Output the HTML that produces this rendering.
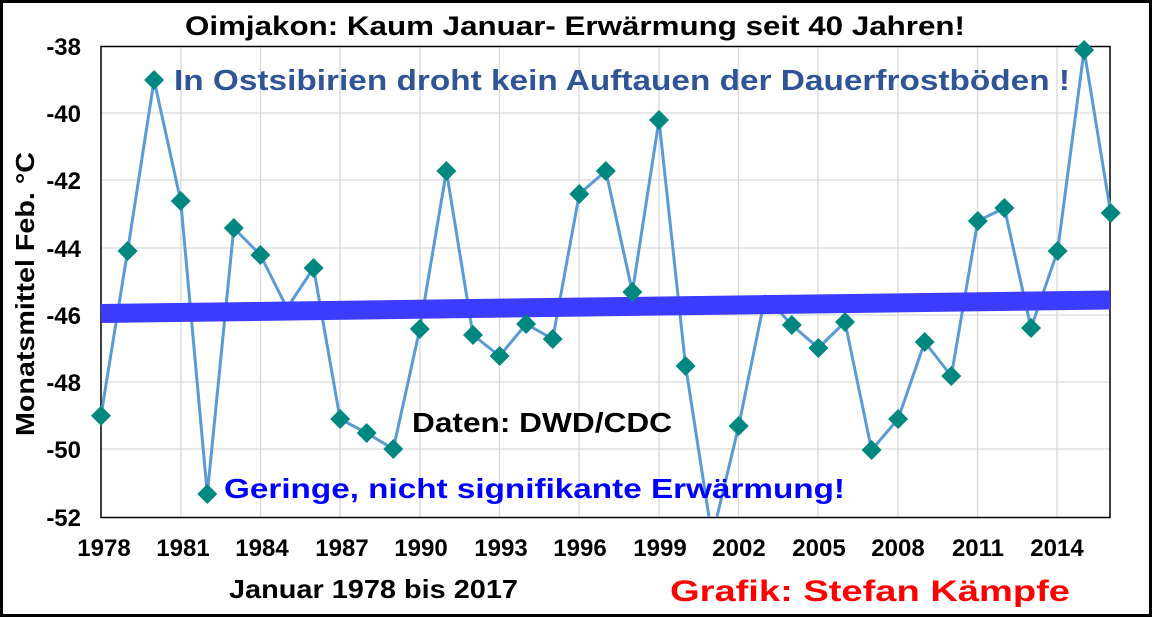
<!DOCTYPE html>
<html><head><meta charset="utf-8"><style>html,body{margin:0;padding:0;background:#fff}svg{display:block}</style></head>
<body>
<svg width="1152" height="617" xmlns="http://www.w3.org/2000/svg" font-family="Liberation Sans, Arial, sans-serif" font-weight="bold">
<rect x="0" y="0" width="1152" height="617" fill="#fff"/>
<rect x="1.5" y="1.5" width="1149" height="614" fill="none" stroke="#000" stroke-width="3"/>
<g stroke="#d9d9d9" stroke-width="1.3">
<line x1="101" x2="1110" y1="113" y2="113"/><line x1="101" x2="1110" y1="180" y2="180"/><line x1="101" x2="1110" y1="248" y2="248"/><line x1="101" x2="1110" y1="315" y2="315"/><line x1="101" x2="1110" y1="382" y2="382"/><line x1="101" x2="1110" y1="449" y2="449"/>
<line x1="181" x2="181" y1="46" y2="517"/><line x1="260.5" x2="260.5" y1="46" y2="517"/><line x1="340" x2="340" y1="46" y2="517"/><line x1="420" x2="420" y1="46" y2="517"/><line x1="499.5" x2="499.5" y1="46" y2="517"/><line x1="579" x2="579" y1="46" y2="517"/><line x1="659" x2="659" y1="46" y2="517"/><line x1="738.5" x2="738.5" y1="46" y2="517"/><line x1="818" x2="818" y1="46" y2="517"/><line x1="898" x2="898" y1="46" y2="517"/><line x1="977.5" x2="977.5" y1="46" y2="517"/><line x1="1057" x2="1057" y1="46" y2="517"/>
</g>
<rect x="101" y="46.5" width="1009" height="471" fill="none" stroke="#000" stroke-width="1.5"/>
<text x="575" y="35" font-size="27" text-anchor="middle" textLength="780" lengthAdjust="spacingAndGlyphs">Oimjakon:  Kaum Januar- Erwärmung seit 40 Jahren!</text>
<g font-size="24" text-anchor="end">
<text x="81" y="55">-38</text><text x="81" y="122">-40</text><text x="81" y="189">-42</text><text x="81" y="257">-44</text><text x="81" y="324">-46</text><text x="81" y="391">-48</text><text x="81" y="458">-50</text><text x="81" y="526">-52</text>
</g>
<g font-size="24" text-anchor="middle">
<text x="104" y="556">1978</text><text x="183" y="556">1981</text><text x="262" y="556">1984</text><text x="342" y="556">1987</text><text x="421" y="556">1990</text><text x="501" y="556">1993</text><text x="580" y="556">1996</text><text x="660" y="556">1999</text><text x="739" y="556">2002</text><text x="819" y="556">2005</text><text x="898" y="556">2008</text><text x="978" y="556">2011</text><text x="1057" y="556">2014</text>
</g>
<text transform="translate(34,294) rotate(-90)" font-size="26" text-anchor="middle" textLength="284" lengthAdjust="spacingAndGlyphs">Monatsmittel Feb. °C</text>
<defs><clipPath id="c"><rect x="101" y="30" width="1030" height="487"/></clipPath></defs>
<polyline clip-path="url(#c)" fill="none" stroke="#5b9bd5" stroke-width="3" stroke-linejoin="round" points="101,415.7 127.6,251 154.1,80 180.7,201 207.3,494 233.8,228 260.4,255 287,308 313.6,268 340.1,419 366.7,433 393.3,449 419.8,329 446.4,171 473,335 499.6,356 526.1,324 552.7,339 579.3,194 605.8,171 632.4,292 659,120 685.6,366 712.1,537 738.7,426 765.3,296 791.8,325 818.4,348 845,322 871.6,450 898.1,419 924.7,342 951.3,376 977.8,221 1004.4,208 1031,328 1057.6,251 1084.1,50 1110.7,213"/>
<line x1="101" y1="313.5" x2="1110" y2="300" stroke="#3c3cff" stroke-width="19"/>
<g fill="#00877f">
<path d="M101,405.7l10,10l-10,10l-10,-10z M127.6,241l10,10l-10,10l-10,-10z M154.1,70l10,10l-10,10l-10,-10z M180.7,191l10,10l-10,10l-10,-10z M207.3,484l10,10l-10,10l-10,-10z M233.8,218l10,10l-10,10l-10,-10z M260.4,245l10,10l-10,10l-10,-10z M313.6,258l10,10l-10,10l-10,-10z M340.1,409l10,10l-10,10l-10,-10z M366.7,423l10,10l-10,10l-10,-10z M393.3,439l10,10l-10,10l-10,-10z M419.8,319l10,10l-10,10l-10,-10z M446.4,161l10,10l-10,10l-10,-10z M473,325l10,10l-10,10l-10,-10z M499.6,346l10,10l-10,10l-10,-10z M526.1,314l10,10l-10,10l-10,-10z M552.7,329l10,10l-10,10l-10,-10z M579.3,184l10,10l-10,10l-10,-10z M605.8,161l10,10l-10,10l-10,-10z M632.4,282l10,10l-10,10l-10,-10z M659,110l10,10l-10,10l-10,-10z M685.6,356l10,10l-10,10l-10,-10z M738.7,416l10,10l-10,10l-10,-10z M791.8,315l10,10l-10,10l-10,-10z M818.4,338l10,10l-10,10l-10,-10z M845,312l10,10l-10,10l-10,-10z M871.6,440l10,10l-10,10l-10,-10z M898.1,409l10,10l-10,10l-10,-10z M924.7,332l10,10l-10,10l-10,-10z M951.3,366l10,10l-10,10l-10,-10z M977.8,211l10,10l-10,10l-10,-10z M1004.4,198l10,10l-10,10l-10,-10z M1031,318l10,10l-10,10l-10,-10z M1057.6,241l10,10l-10,10l-10,-10z M1084.1,40l10,10l-10,10l-10,-10z M1110.7,203l10,10l-10,10l-10,-10z"/>
</g>
<text x="174" y="90" font-size="29" fill="#2f5597" textLength="896" lengthAdjust="spacingAndGlyphs">In Ostsibirien droht kein Auftauen der Dauerfrostböden !</text>
<text x="224" y="498" font-size="28" fill="#0000ff" textLength="621" lengthAdjust="spacingAndGlyphs">Geringe, nicht signifikante Erwärmung!</text>
<text x="412" y="432" font-size="28" fill="#000" textLength="260" lengthAdjust="spacingAndGlyphs">Daten: DWD/CDC</text>
<text x="229" y="598" font-size="26" fill="#000" textLength="289" lengthAdjust="spacingAndGlyphs">Januar 1978 bis 2017</text>
<text x="670" y="601" font-size="30" fill="#ff0000" textLength="400" lengthAdjust="spacingAndGlyphs">Grafik: Stefan Kämpfe</text>
</svg>
</body></html>
